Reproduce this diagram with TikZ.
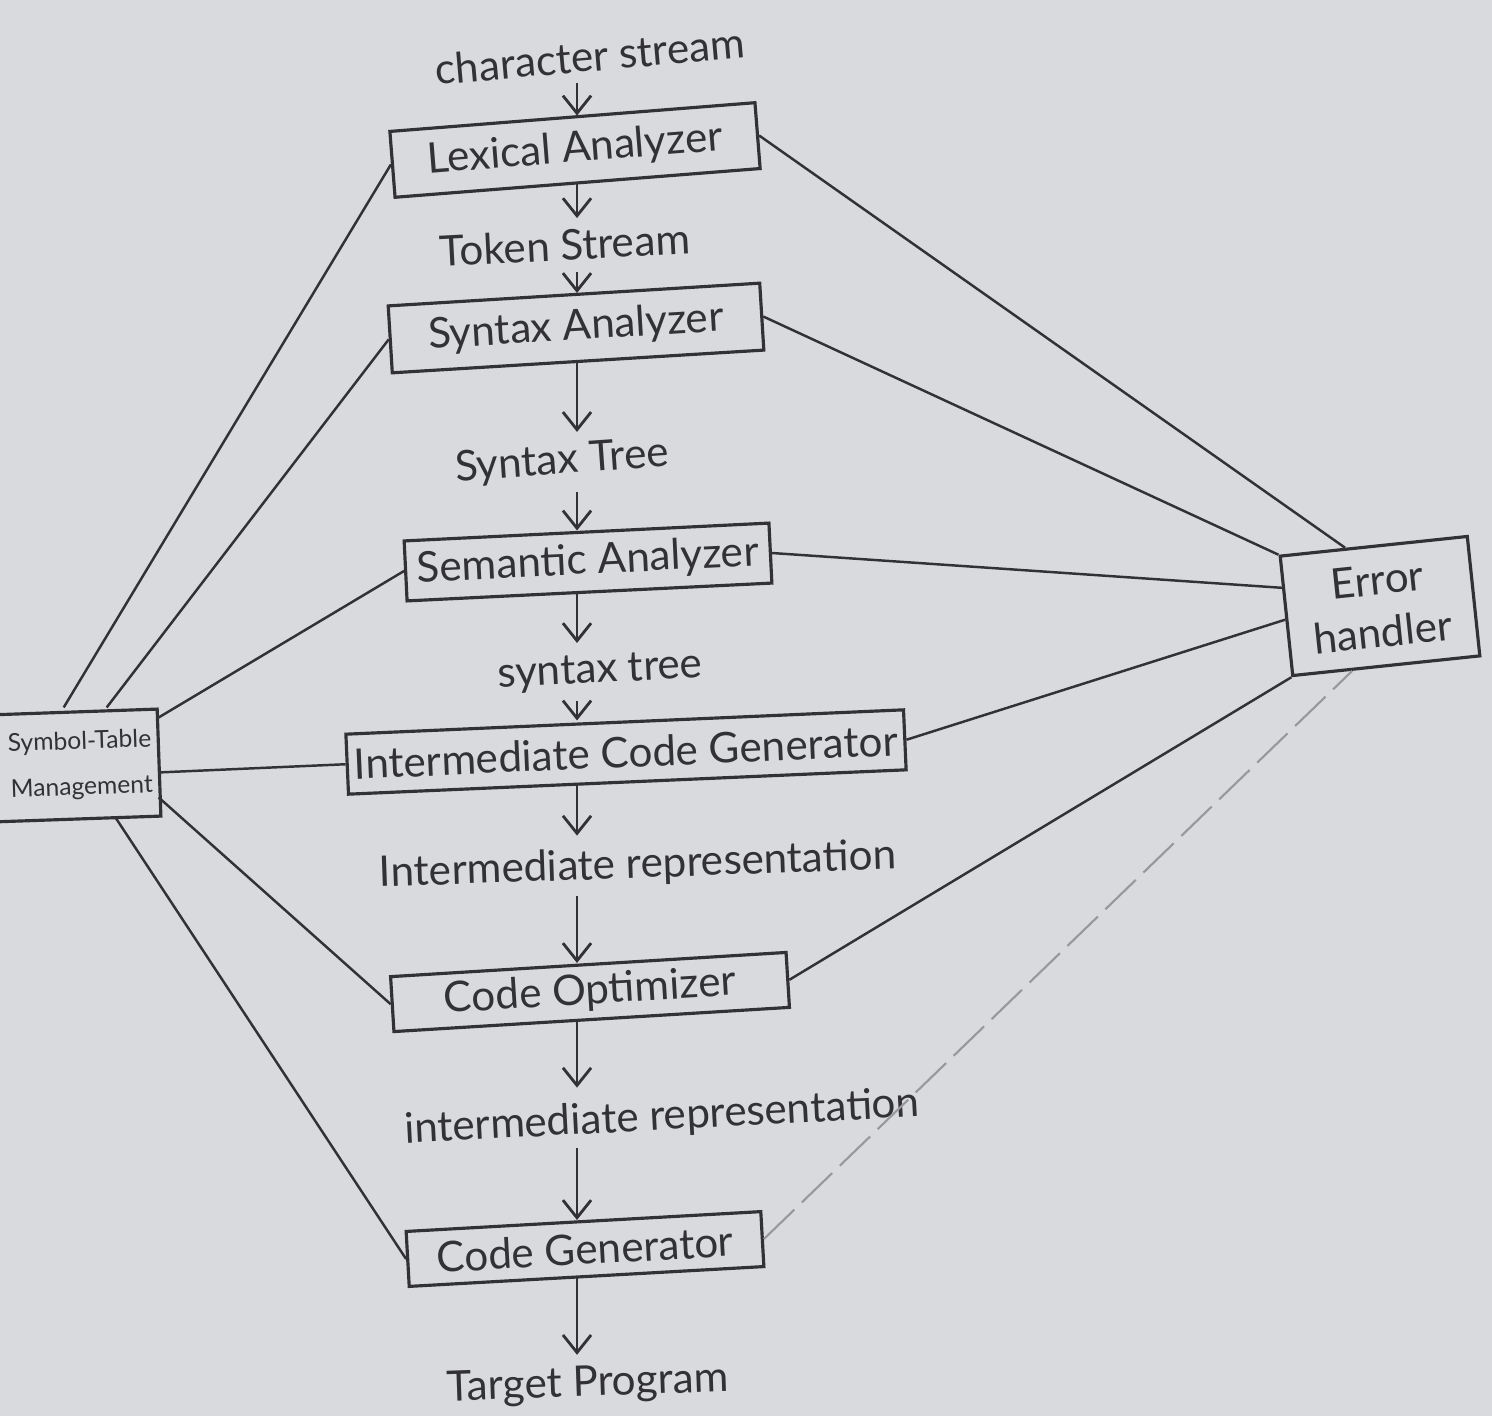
\documentclass[tikz,border=0pt]{standalone}
\usepackage{fontspec}
\setmainfont{Lato}
\usetikzlibrary{arrows.meta,calc}
\definecolor{paper}{RGB}{217,218,222}
\definecolor{ink}{RGB}{50,50,54}
\begin{document}
\begin{tikzpicture}[x=0.01cm,y=-0.01cm,
  every node/.style={text=ink, font=\fontsize{12}{15}\selectfont},
  phase/.style={draw=ink, line width=0.9pt, inner sep=2pt},
  lbl/.style={inner sep=3pt},
  arr/.style={draw=ink, line width=0.8pt, -{Straight Barb[length=5pt,width=8pt]}},
  link/.style={draw=ink, line width=0.7pt},
  faint/.style={draw=ink!50, line width=0.6pt, dash pattern=on 12pt off 3pt}]
\useasboundingbox (0,0) rectangle (1492,1416);
\fill[paper] (0,0) rectangle (1492,1416);

% labels
\node[lbl, rotate=5] (cs) at (590,56) {character stream};
\node[lbl, rotate=3] (tok) at (565,245) {Token Stream};
\node[lbl, rotate=4] (st1) at (562,462) {Syntax Tree};
\node[lbl, rotate=3] (st2) at (600,672) {syntax tree};
\node[lbl, rotate=2] (ir1) at (638,866) {Intermediate representation};
\node[lbl, rotate=3] (ir2) at (662,1118) {intermediate representation};
\node[lbl, rotate=2] (tp) at (588,1385) {Target Program};

% phase boxes
\node[phase, minimum width=3.66cm, minimum height=0.66cm, rotate=4.5] (lex) at (575,150) {Lexical Analyzer};
\node[phase, minimum width=3.72cm, minimum height=0.67cm, rotate=3.5] (syn) at (576,328) {Syntax Analyzer};
\node[phase, minimum width=3.65cm, minimum height=0.60cm, rotate=2.8] (sem) at (588,562) {Semantic Analyzer};
\node[phase, minimum width=5.12cm, minimum height=0.60cm, rotate=2.5] (icg) at (626,752) {Intermediate Code Generator};
\node[phase, minimum width=3.96cm, minimum height=0.55cm, rotate=3.5] (opt) at (590,992) {Code Optimizer};
\node[phase, minimum width=3.55cm, minimum height=0.55cm, rotate=3.2] (cg) at (585,1249) {Code Generator};
\node[phase, minimum width=1.88cm, minimum height=1.2cm, rotate=6, align=center] (err) at (1380,606) {Error\\handler};
\begin{scope}
  \clip (0,0) rectangle (1492,1416);
  \node[phase, minimum width=3.06cm, minimum height=1.07cm, rotate=2, text width=2.96cm, align=right,
        font=\fontsize{7}{13}\selectfont] (sym) at (4,768) {Symbol-Table\\Management};
\end{scope}

% main flow
\coordinate (ax) at (577,0);
\draw[arr] (cs.south -| ax) -- (lex.north -| ax);
\draw[arr] (lex.south -| ax) -- (tok.north -| ax);
\draw[arr] (tok.south -| ax) -- (syn.north -| ax);
\draw[arr] (syn.south -| ax) -- (st1.north -| ax);
\draw[arr] (st1.south -| ax) -- (sem.north -| ax);
\draw[arr] (sem.south -| ax) -- (st2.north -| ax);
\draw[arr] (st2.south -| ax) -- (icg.north -| ax);
\draw[arr] (icg.south -| ax) -- (ir1.north -| ax);
\draw[arr] (ir1.south -| ax) -- (opt.north -| ax);
\draw[arr] (opt.south -| ax) -- (ir2.north -| ax);
\draw[arr] (ir2.south -| ax) -- (cg.north -| ax);
\draw[arr] (cg.south -| ax) -- (tp.north -| ax);

% symbol table links
\draw[link] ($(sym.north east)+(-95,0)$) -- (lex.west);
\draw[link] ($(sym.north east)+(-52,0)$) -- (syn.west);
\draw[link] ($(sym.north east)+(0,10)$) -- (sem.west);
\draw[link] ($(sym.north east)+(0,65)$) -- (icg.west);
\draw[link] ($(sym.north east)+(0,90)$) -- (opt.west);
\draw[link] ($(sym.south east)+(-47,0)$) -- (cg.west);

% error handler links
\draw[link] (lex.east) -- ($(err.north west)!0.35!(err.north east)$);
\draw[link] (syn.east) -- (err.north west);
\draw[link] (sem.east) -- ($(err.north west)!0.27!(err.south west)$);
\draw[link] (icg.east) -- ($(err.north west)!0.53!(err.south west)$);
\draw[link] (opt.east) -- (err.south west);
\draw[faint] (cg.east) -- ($(err.south west)!0.32!(err.south east)$);
\end{tikzpicture}
\end{document}
